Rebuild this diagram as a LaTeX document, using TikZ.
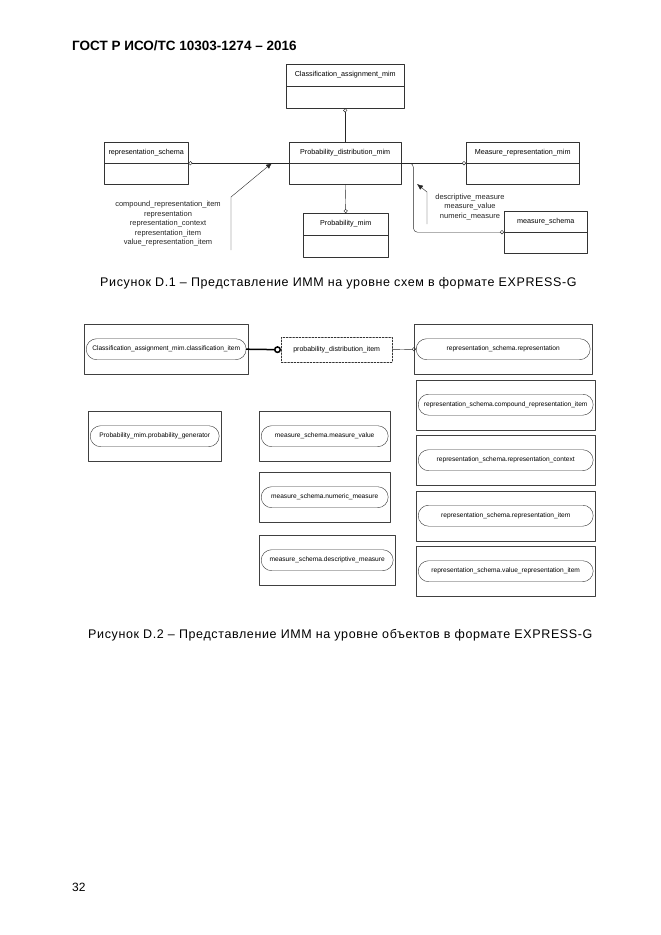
\documentclass[tikz,border=0pt]{standalone}
\usepackage{fontspec}
\setmainfont{Liberation Sans}
\usetikzlibrary{arrows.meta,shapes.misc,positioning}

\tikzset{
  ent/.style={draw=black!80, inner sep=0pt, minimum height=42pt,
    path picture={\draw[black!80] (path picture bounding box.west) -- (path picture bounding box.east);}},
  entname/.style={font=\fontsize{7.2}{8}\selectfont, inner sep=0pt},
  rel/.style={black!85, -{Circle[open, length=4pt, width=4pt]}},
  refarrow/.style={black!85, -{Latex[length=6pt, width=5pt]}},
  reflabel/.style={font=\fontsize{7.5}{9.5}\selectfont, text=black!85, align=center, inner sep=0pt},
  obox/.style={draw=black!75, inner sep=0pt, minimum height=50pt},
  pill/.style={rounded rectangle, draw=black!80, inner sep=1pt, minimum height=21pt,
    font=\fontsize{6.6}{7}\selectfont},
  caption/.style={font=\fontsize{12.5}{14}\selectfont\addfontfeature{LetterSpace=5}, anchor=west, inner sep=0pt},
}

\begin{document}
\begin{tikzpicture}[x=1pt, y=-1pt, line cap=round, line join=round]

  \fill[white] (0,0) rectangle (661,935);
  \useasboundingbox (0,0) rectangle (661,935);

  % Page header
  \node[anchor=west, inner sep=0pt, font=\bfseries\fontsize{13.5}{16}\selectfont] (hdr) at (72,46) {ГОСТ Р ИСО/ТС 10303-1274 – 2016};

  %% Figure D.1 -- schema level
  \node[ent, minimum width=118pt, minimum height=44pt, anchor=north west] (ca) at (286,64) {};
  \node[entname] at ([yshift=-11pt]ca.north) {Classification\_assignment\_mim};

  \node[ent, minimum width=84pt, anchor=north west] (rs) at (104,142) {};
  \node[entname] at ([yshift=-10.5pt]rs.north) {representation\_schema};

  \node[ent, minimum width=112pt, anchor=north west] (pd) at (289,142) {};
  \node[entname] at ([yshift=-10.5pt]pd.north) {Probability\_distribution\_mim};

  \node[ent, minimum width=113pt, anchor=north west] (mr) at (466,142) {};
  \node[entname] at ([yshift=-10.5pt]mr.north) {Measure\_representation\_mim};

  \node[ent, minimum width=85pt, minimum height=44pt, anchor=north west] (pm) at (303,213) {};
  \node[entname] at ([yshift=-11pt]pm.north) {Probability\_mim};

  \node[ent, minimum width=83pt, anchor=north west] (ms) at (504,211) {};
  \node[entname] at ([yshift=-10.5pt]ms.north) {measure\_schema};

  % Schema links
  \draw[rel] (pd.north) -- (ca.south);
  \draw[rel] (pd.west) -- (rs.east);
  \draw[rel] (pd.east) -- (mr.west);
  \draw[rel] (pd.south) -- (pm.north);
  \draw[rel, rounded corners=4pt] (pd.east) -- ++(12,0) |- (ms.west);

  % Referenced items
  \node[reflabel] (lrefs) at (168,224) {compound\_representation\_item\\representation\\representation\_context\\representation\_item\\value\_representation\_item};
  \coordinate (lfoot) at (231,250);
  \coordinate (lbend) at (231,197);
  \coordinate (ltip) at (272,163);
  \draw[refarrow] (lfoot) -- (lbend) -- (ltip);

  \node[reflabel] (rrefs) at (470,207) {descriptive\_measure\\measure\_value\\numeric\_measure};
  \coordinate (rfoot) at (427,224);
  \coordinate (rbend) at (427,192);
  \coordinate (rtip) at (417,184);
  \draw[refarrow] (rfoot) -- (rbend) -- (rtip);

  \node[caption] (cap1) at (100,283) {Рисунок D.1 –  Представление ИММ на уровне схем в формате EXPRESS-G};

  %% Figure D.2 -- object level
  \node[obox, minimum width=164pt, anchor=north west] (cai) at (84,324) {};
  \node[pill, minimum width=162pt] (cai-p) at (cai.center) {Classification\_assignment\_mim.classification\_item};

  \node[draw=black!80, dash pattern=on 2pt off 1.2pt, inner sep=0pt, minimum width=111pt, minimum height=25pt,
    anchor=north west, font=\fontsize{7}{8}\selectfont] (pdi) at (281,337) {probability\_distribution\_item};

  \node[obox, minimum width=178pt, anchor=north west] (rsr) at (414,324) {};
  \node[pill, minimum width=176pt] (rsr-p) at (rsr.center) {representation\_schema.representation};

  \draw[line width=1.5pt, -{Circle[open, length=7pt, width=7pt]}] (cai-p.east) -- (pdi.west);
  \draw[rel] (pdi.east) -- (rsr-p.west);

  % Right column
  \foreach \nm/\txt [count=\i] in {cri/compound\_representation\_item, rc/representation\_context,
      ri/representation\_item, vri/value\_representation\_item} {
    \node[obox, minimum width=179pt, anchor=north west] (\nm) at (416,324+55.5*\i) {};
    \node[pill, minimum width=177pt] (\nm-p) at (\nm.center) {representation\_schema.\txt};
  }

  % Left and middle columns
  \node[obox, minimum width=133pt, anchor=north west] (pg) at (88,411) {};
  \node[pill, minimum width=131pt] (pg-p) at (pg.center) {Probability\_mim.probability\_generator};

  \node[obox, minimum width=131pt, anchor=north west] (mv) at (259,411) {};
  \node[pill, minimum width=129pt] (mv-p) at (mv.center) {measure\_schema.measure\_value};

  \node[obox, minimum width=131pt, anchor=north west] (nm) at (259,472) {};
  \node[pill, minimum width=129pt] (nm-p) at (nm.center) {measure\_schema.numeric\_measure};

  \node[obox, minimum width=136pt, anchor=north west] (dm) at (259,535) {};
  \node[pill, minimum width=134pt] (dm-p) at (dm.center) {measure\_schema.descriptive\_measure};

  \node[caption] (cap2) at (88,635) {Рисунок D.2 –  Представление ИММ на уровне объектов в формате EXPRESS-G};

  % Page number
  \node[anchor=west, inner sep=0pt, font=\fontsize{12}{14}\selectfont] (pgno) at (72,887) {32};

\end{tikzpicture}
\end{document}
